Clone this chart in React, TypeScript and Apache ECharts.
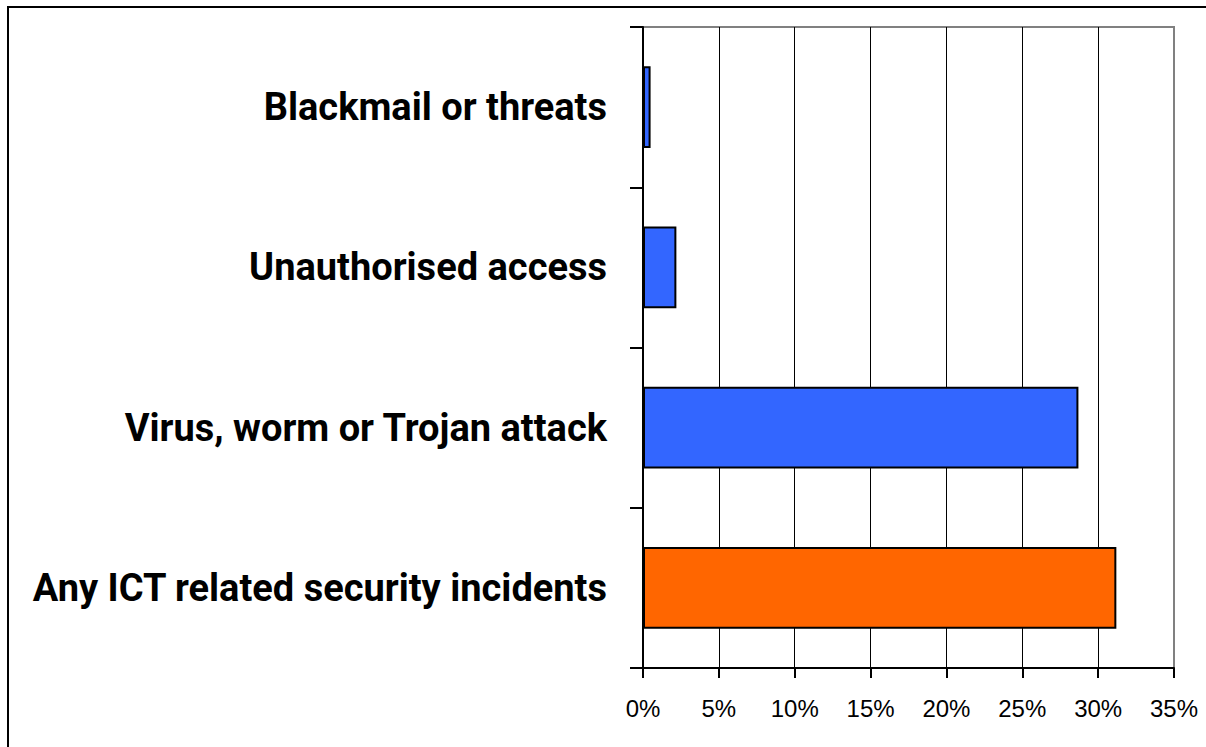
import React, { useEffect, useRef } from "react";
import * as echarts from "echarts";

const categories = [
  "Any ICT related security incidents",
  "Virus, worm or Trojan attack",
  "Unauthorised access",
  "Blackmail or threats",
];
const values = [31.2, 28.7, 2.2, 0.5];
const barColors = ["#FF6600", "#3366FF", "#3366FF", "#3366FF"];
const xTicks = [0, 5, 10, 15, 20, 25, 30, 35];

export default function App() {
  const ref = useRef<HTMLDivElement>(null);
  useEffect(() => {
    const chart = echarts.init(ref.current!, undefined, { renderer: "svg" });
    chart.setOption({
      animation: false,
      backgroundColor: "#ffffff",
      grid: {
        left: 643,
        right: 32,
        top: 27,
        bottom: 79,
        containLabel: false,
        outerBoundsMode: "none",
        show: true,
        borderColor: "#808080",
        borderWidth: 2,
        backgroundColor: "transparent",
      },
      xAxis: {
        type: "value",
        min: xTicks[0],
        max: xTicks[xTicks.length - 1],
        interval: 5,
        axisLine: { show: true, lineStyle: { color: "#000", width: 2 } },
        axisTick: { show: true, length: 10, lineStyle: { color: "#000", width: 2 } },
        axisLabel: {
          formatter: "{value}%",
          color: "#000",
          fontSize: 24,
          fontFamily: "'Liberation Sans', Arial, sans-serif",
          margin: 28,
        },
        splitLine: {
          show: true,
          lineStyle: {
            color: ["#000", "#000", "#000", "#000", "#000", "#000", "#000", "#808080"],
            width: 1,
          },
        },
      },
      yAxis: {
        type: "category",
        data: categories,
        axisLine: { show: true, lineStyle: { color: "#000", width: 2 } },
        axisTick: { show: true, length: 13, lineStyle: { color: "#000", width: 2 } },
        axisLabel: {
          color: "#000",
          fontSize: 38,
          fontWeight: "bold",
          fontFamily: "Roboto, 'Liberation Sans', sans-serif",
          margin: 36,
          padding: [8, 0, 0, 0],
        },
        splitLine: { show: false },
      },
      series: [
        {
          type: "bar",
          data: values.map((v, i) => ({ value: v, itemStyle: { color: barColors[i] } })),
          barWidth: "51%",
          itemStyle: { borderColor: "#000", borderWidth: 2 },
        },
      ],
      graphic: [
        {
          type: "rect",
          shape: { x: 8, y: 7, width: 1400, height: 900 },
          style: { fill: "none", stroke: "#000", lineWidth: 2 },
          silent: true,
          z: 100,
        },
      ],
    });
    return () => chart.dispose();
  }, []);
  return (
    <div
      ref={ref}
      style={{ position: "fixed", left: 0, top: 0, width: 1206, height: 747 }}
    />
  );
}
